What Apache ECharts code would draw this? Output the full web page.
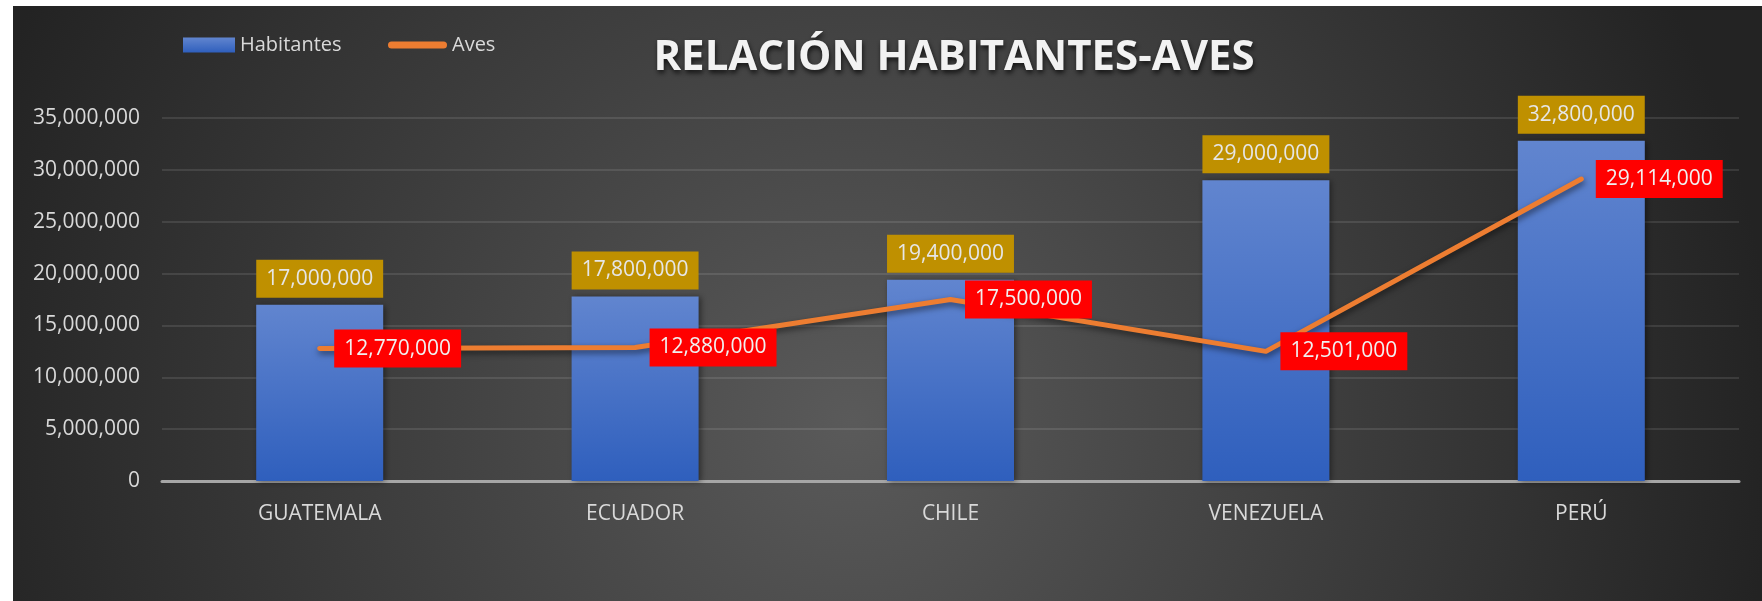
<!DOCTYPE html>
<html>
<head>
<meta charset="utf-8">
<title>Relación Habitantes-Aves</title>
<script src="https://cdn.jsdelivr.net/npm/echarts@6/dist/echarts.min.js"></script>
<style>
  body { margin: 0; background: #fff; }
  #chart { position: absolute; left: 13px; top: 6px; width: 1749px; height: 595px; }
</style>
</head>
<body>
<div id="chart"></div>
<script>
const paises = ['GUATEMALA', 'ECUADOR', 'CHILE', 'VENEZUELA', 'PERÚ']
const habitantes = [17000000, 17800000, 19400000, 29000000, 32800000]
const aves = [12770000, 12880000, 17500000, 12501000, 29114000]
const yTicks = [0, 5000000, 10000000, 15000000, 20000000, 25000000, 30000000, 35000000]

const fmt = v => Number(v).toLocaleString('en-US')
const font = '"Open Sans", "Noto Sans", sans-serif'

let myChart = echarts.init(document.getElementById('chart'))
myChart.setOption({
  backgroundColor: {
    type: 'radial', x: 0.48, y: 0.7, r: 1.55,
    colorStops: [
      { offset: 0, color: '#5a5a5a' },
      { offset: 1, color: '#232323' }
    ]
  },
  textStyle: { fontFamily: font },
  title: {
    text: 'RELACIÓN HABITANTES-AVES',
    left: 936,
    textAlign: 'center',
    top: 26,
    textStyle: {
      fontFamily: font,
      fontSize: 42,
      fontWeight: 'bold',
      color: '#f2f2f2',
      textShadowColor: 'rgba(0,0,0,0.7)',
      textShadowBlur: 5,
      textShadowOffsetX: 1,
      textShadowOffsetY: 3
    }
  },
  legend: [
    {
      left: 170,
      top: 29,
      padding: 0,
      itemWidth: 52,
      itemHeight: 15,
      data: [{ name: 'Habitantes', icon: 'rect' }],
      textStyle: { color: '#d9d9d9', fontSize: 20, fontFamily: font }
    },
    {
      left: 375,
      top: 29,
      padding: 0,
      itemWidth: 59,
      itemHeight: 15,
      data: [{
        name: 'Aves',
        icon: 'path://M0,3.5 A3.5,3.5 0 0 1 3.5,0 L55.5,0 A3.5,3.5 0 0 1 55.5,7 L3.5,7 A3.5,3.5 0 0 1 0,3.5 Z',
        itemStyle: { color: '#ed7d31', borderWidth: 0 }
      }],
      textStyle: { color: '#d9d9d9', fontSize: 20, fontFamily: font }
    }
  ],
  grid: { left: 149, right: 23, top: 112, bottom: 120, containLabel: false },
  xAxis: {
    type: 'category',
    data: paises,
    axisLine: { lineStyle: { color: '#a6a6a6', width: 3 } },
    axisTick: { show: false },
    axisLabel: { color: '#d9d9d9', fontSize: 21, margin: 23, fontFamily: font }
  },
  yAxis: {
    type: 'value',
    min: yTicks[0],
    max: yTicks[yTicks.length - 1],
    interval: yTicks[1] - yTicks[0],
    axisLine: { show: false },
    axisTick: { show: false },
    splitLine: { lineStyle: { color: 'rgba(255,255,255,0.1)', width: 2 } },
    axisLabel: { color: '#d9d9d9', fontSize: 21, margin: 22, fontFamily: font, formatter: fmt }
  },
  series: [
    {
      name: 'Habitantes',
      type: 'bar',
      data: habitantes,
      barWidth: 127,
      itemStyle: {
        color: {
          type: 'linear', x: 0, y: 0, x2: 0, y2: 1,
          colorStops: [
            { offset: 0, color: '#6185cf' },
            { offset: 1, color: '#2f5fbd' }
          ]
        },
        shadowColor: 'rgba(0,0,0,0.45)',
        shadowBlur: 6,
        shadowOffsetX: 2,
        shadowOffsetY: 1
      },
      label: {
        show: true,
        position: 'top',
        distance: 7,
        formatter: p => fmt(p.value),
        color: '#e6e6e6',
        fontSize: 21,
        lineHeight: 24,
        fontFamily: font,
        backgroundColor: '#bf9000',
        padding: [7, 10]
      }
    },
    {
      name: 'Aves',
      type: 'line',
      data: aves,
      // los puntos se dejan muy pequeños para que salgan las etiquetas
      showSymbol: true,
      symbol: 'circle',
      symbolSize: 1,
      lineStyle: {
        color: '#ed7d31',
        width: 5,
        cap: 'round',
        join: 'round',
        shadowColor: 'rgba(0,0,0,0.55)',
        shadowBlur: 6,
        shadowOffsetX: 1,
        shadowOffsetY: 3
      },
      itemStyle: { color: '#ed7d31', borderWidth: 0 },
      label: {
        show: true,
        position: 'right',
        distance: 14,
        formatter: p => fmt(p.value),
        color: '#f0f0f0',
        fontSize: 21,
        lineHeight: 24,
        fontFamily: font,
        backgroundColor: '#ff0000',
        padding: [7, 10]
      },
      z: 3
    }
  ]
})
</script>
</body>
</html>
